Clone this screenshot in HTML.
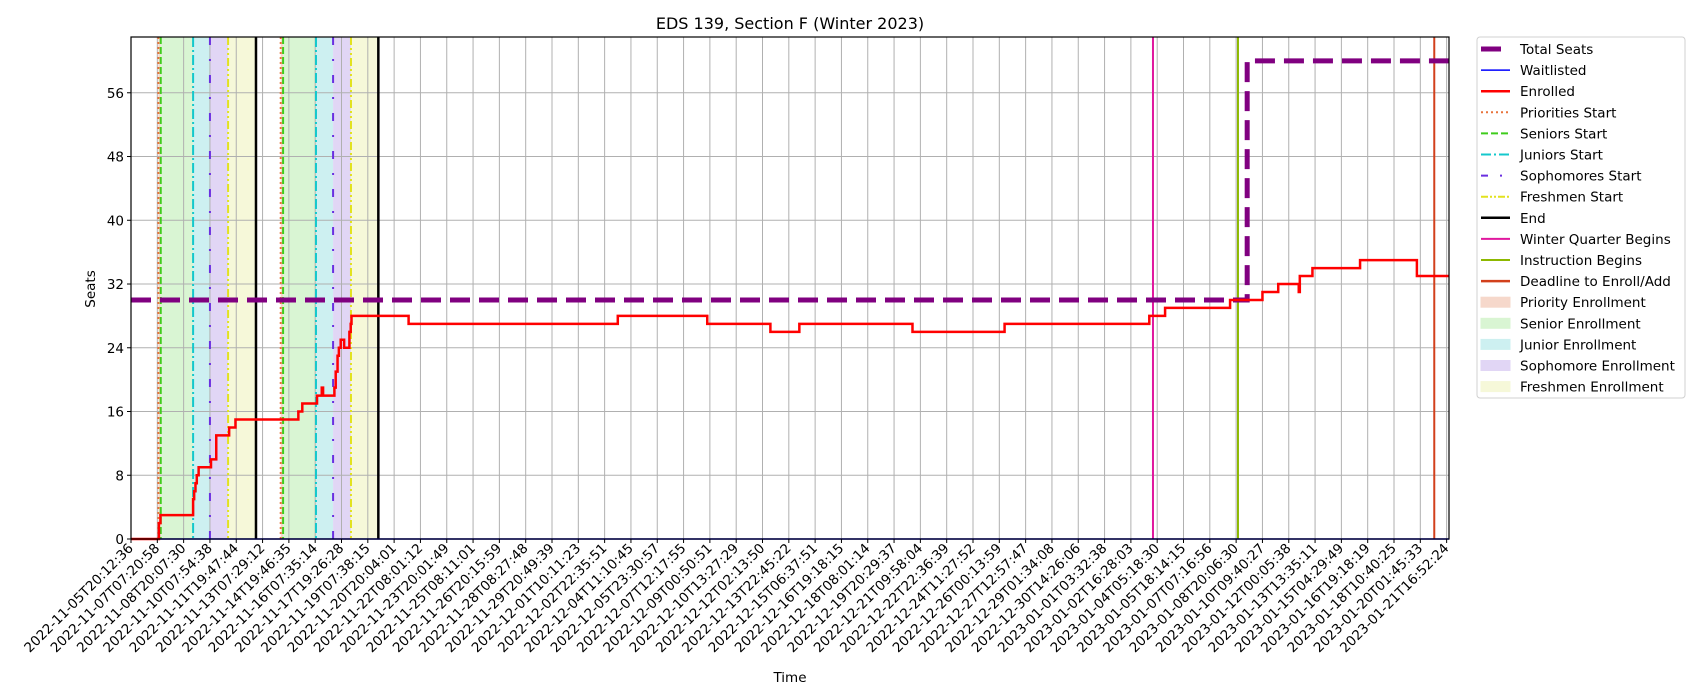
<!DOCTYPE html>
<html><head><meta charset="utf-8"><title>EDS 139, Section F (Winter 2023)</title>
<style>
html,body{margin:0;padding:0;background:#fff;}
svg{display:block;font-family:"DejaVu Sans","Liberation Sans",sans-serif;}
</style></head>
<body>
<svg id="chart" width="1700" height="700" viewBox="0 0 1700 700" xmlns="http://www.w3.org/2000/svg"></svg>
<script>
// ---- data (x in tick-index units, y in seats) ----
const tickLabels = ["2022-11-05T20:12:36","2022-11-07T07:20:58","2022-11-08T20:07:30","2022-11-10T07:54:38","2022-11-11T19:47:44","2022-11-13T07:29:12","2022-11-14T19:46:35","2022-11-16T07:35:14","2022-11-17T19:26:28","2022-11-19T07:38:15","2022-11-20T20:04:01","2022-11-22T08:01:12","2022-11-23T20:01:49","2022-11-25T08:11:01","2022-11-26T20:15:59","2022-11-28T08:27:48","2022-11-29T20:49:39","2022-12-01T10:11:23","2022-12-02T22:35:51","2022-12-04T11:10:45","2022-12-05T23:30:57","2022-12-07T12:17:55","2022-12-09T00:50:51","2022-12-10T13:27:29","2022-12-12T02:13:50","2022-12-13T22:45:22","2022-12-15T06:37:51","2022-12-16T19:18:15","2022-12-18T08:01:14","2022-12-19T20:29:37","2022-12-21T09:58:04","2022-12-22T22:36:39","2022-12-24T11:27:52","2022-12-26T00:13:59","2022-12-27T12:57:47","2022-12-29T01:34:08","2022-12-30T14:26:06","2023-01-01T03:32:38","2023-01-02T16:28:03","2023-01-04T05:18:30","2023-01-05T18:14:15","2023-01-07T07:16:56","2023-01-08T20:06:30","2023-01-10T09:40:27","2023-01-12T00:05:38","2023-01-13T13:35:11","2023-01-15T04:29:49","2023-01-16T19:18:19","2023-01-18T10:40:25","2023-01-20T01:45:33","2023-01-21T16:52:24"];
const yTicks = [0,8,16,24,32,40,48,56];
const xMax = 50.09;
const yMax = 63;
const enrolledX = [0,1.06,1.12,2.36,2.40,2.45,2.50,2.57,3.04,3.24,3.73,3.97,6.36,6.51,7.07,7.25,7.30,7.73,7.78,7.85,7.90,7.97,8.10,8.30,8.35,8.38,10.55,18.5,21.9,24.3,25.4,29.7,33.2,38.7,39.3,41.77,43.0,43.6,44.38,44.42,44.9,46.71,48.87,50.09];
const enrolledY = [0,2,3,5,6,7,8,9,10,13,14,15,16,17,18,19,18,19,21,23,24,25,24,26,27,28,27,28,27,26,27,26,27,28,29,30,31,32,31,33,34,35,33,33];
const totalX = [0,42.42,50.09];
const totalY = [30,60,60];
const waitX = [0,50.09];
const waitY = [0,0];
// period event positions
const prioStart = [1.04,5.69];
const seniorStart = [1.13,5.78];
const juniorStart = [2.36,7.03];
const sophStart = [3.00,7.68];
const freshStart = [3.69,8.36];
const endPos = [4.75,9.40];
const winterBegins = [38.84];
const instructionBegins = [42.07];
const deadlineAdd = [49.53];

// ---- layout ----
const L=131,R=1449,T=37,B=539;
const xs=v=>L+v/xMax*(R-L);
const ys=v=>B-v/yMax*(B-T);
const svg=document.getElementById('chart');
const NS='http://www.w3.org/2000/svg';
function mk(tag,attrs,parent){const e=document.createElementNS(NS,tag);for(const k in attrs)e.setAttribute(k,attrs[k]);(parent||svg).appendChild(e);return e;}

// shading
const shade=[[prioStart,seniorStart,'#f6d8cb','priority-enrollment-band'],[seniorStart,juniorStart,'#d9f5d3','senior-enrollment-band'],[juniorStart,sophStart,'#cdf0f1','junior-enrollment-band'],[sophStart,freshStart,'#e1d6f5','sophomore-enrollment-band'],[freshStart,endPos,'#f6f8d9','freshmen-enrollment-band']];
shade.forEach(s=>{for(let i=0;i<s[0].length;i++){
  const r=mk('rect',{x:xs(s[0][i]),y:T,width:xs(s[1][i])-xs(s[0][i]),height:B-T,fill:s[2]});
  
  
}});

// grid
const grid=mk('g',{stroke:'#b0b0b0','stroke-width':1});


tickLabels.forEach((t,i)=>{mk('line',{x1:xs(i),x2:xs(i),y1:T,y2:B},grid);});
yTicks.forEach(v=>{mk('line',{x1:L,x2:R,y1:ys(v),y2:ys(v)},grid);});

// vertical event lines
function vlines(arr,color,dash,w,name){arr.forEach(p=>{
  const l=mk('line',{x1:xs(p),x2:xs(p),y1:T,y2:B,stroke:color,'stroke-width':w,'stroke-dasharray':dash});
  
  
});}
vlines(prioStart,'#e8733c','2,3',2,'priorities-start-line');
vlines(seniorStart,'#3fcc1c','7,3',2,'seniors-start-line');
vlines(juniorStart,'#14c8cc','10,3,2,3',2,'juniors-start-line');
vlines(sophStart,'#6a2fe0','8,14,2,14',2,'sophomores-start-line');
vlines(freshStart,'#e2e21e','8,3,2,3,2,3',2,'freshmen-start-line');
vlines(endPos,'#000','none',2.5,'end-line');
vlines(winterBegins,'#e0189e','none',2,'winter-quarter-begins-line');
vlines(instructionBegins,'#8db800','none',2,'instruction-begins-line');
vlines(deadlineAdd,'#d2401c','none',2,'deadline-enroll-add-line');

function stepPath(X,Y){let d='M'+xs(X[0])+','+ys(Y[0]);for(let i=1;i<X.length;i++){d+=' L'+xs(X[i])+','+ys(Y[i-1])+' L'+xs(X[i])+','+ys(Y[i]);}return d;}
const tot=mk('path',{d:stepPath(totalX,totalY),fill:'none',stroke:'#800080','stroke-width':5,'stroke-dasharray':'20,9'});


const wl=mk('path',{d:stepPath(waitX,waitY),fill:'none',stroke:'#0000ff','stroke-width':1.5});


const en=mk('path',{d:stepPath(enrolledX,enrolledY),fill:'none',stroke:'#ff0000','stroke-width':2.5});



// axes frame
const fr=mk('rect',{x:L,y:T,width:R-L,height:B-T,fill:'none',stroke:'#000','stroke-width':1.2});



// y ticks
yTicks.forEach(v=>{
  mk('line',{x1:L-4,x2:L,y1:ys(v),y2:ys(v),stroke:'#000'});
  const t=mk('text',{x:L-7,y:ys(v)+5,'text-anchor':'end','font-size':13.5,fill:'#000'});t.textContent=v;
  
  
});
// x ticks
tickLabels.forEach((s,i)=>{
  const x=xs(i);
  mk('line',{x1:x,x2:x,y1:B,y2:B+4,stroke:'#000'});
  const t=mk('text',{x:x+3,y:B+10,'text-anchor':'end','font-size':13.5,fill:'#000',transform:'rotate(-45 '+(x+3)+' '+(B+10)+')'});
  t.textContent=s;
  
  
});

// titles
const title=mk('text',{x:(L+R)/2,y:29,'text-anchor':'middle','font-size':16,fill:'#000'});title.textContent='EDS 139, Section F (Winter 2023)';


const xl=mk('text',{x:(L+R)/2,y:682,'text-anchor':'middle','font-size':13.5,fill:'#000'});xl.textContent='Time';


const yl=mk('text',{x:95,y:289,'text-anchor':'middle','font-size':13.5,fill:'#000',transform:'rotate(-90 95 289)'});yl.textContent='Seats';



// legend
const lg=mk('g',{});


mk('rect',{x:1477,y:37,width:208,height:361,rx:3,fill:'#fff',stroke:'#d0d0d0'},lg);
const items=[
 ['Total Seats','line','#800080','5','12,0'],['Waitlisted','line','#0000ff','1.5','none'],['Enrolled','line','#ff0000','2.5','none'],
 ['Priorities Start','line','#e8733c','2','2,3'],['Seniors Start','line','#3fcc1c','2','7,3'],['Juniors Start','line','#14c8cc','2','10,3,2,3'],
 ['Sophomores Start','line','#6a2fe0','2','7,12,2,12'],['Freshmen Start','line','#e2e21e','2','7,2,2,2,2,2'],['End','line','#000','2.5','none'],
 ['Winter Quarter Begins','line','#e0189e','2','none'],['Instruction Begins','line','#8db800','2','none'],['Deadline to Enroll/Add','line','#d2401c','2.5','none'],
 ['Priority Enrollment','patch','#f6d8cb'],['Senior Enrollment','patch','#d9f5d3'],['Junior Enrollment','patch','#cdf0f1'],['Sophomore Enrollment','patch','#e1d6f5'],['Freshmen Enrollment','patch','#f6f8d9']];
items.forEach((it,i)=>{
  const cy=49+i*21.1;
  const g=mk('g',{},lg);
  
  
  if(it[1]==='line'){mk('line',{x1:1481,x2:1510,y1:cy,y2:cy,stroke:it[2],'stroke-width':it[3],'stroke-dasharray':it[4]},g);if(i===0){g.lastChild.setAttribute('x2','1501');}}
  else mk('rect',{x:1481,y:cy-5,width:29,height:10,fill:it[2],stroke:it[2]},g);
  const t=mk('text',{x:1520,y:cy+5,'font-size':13.5,fill:'#000'},g);t.textContent=it[0];
});
</script>
</body></html>
